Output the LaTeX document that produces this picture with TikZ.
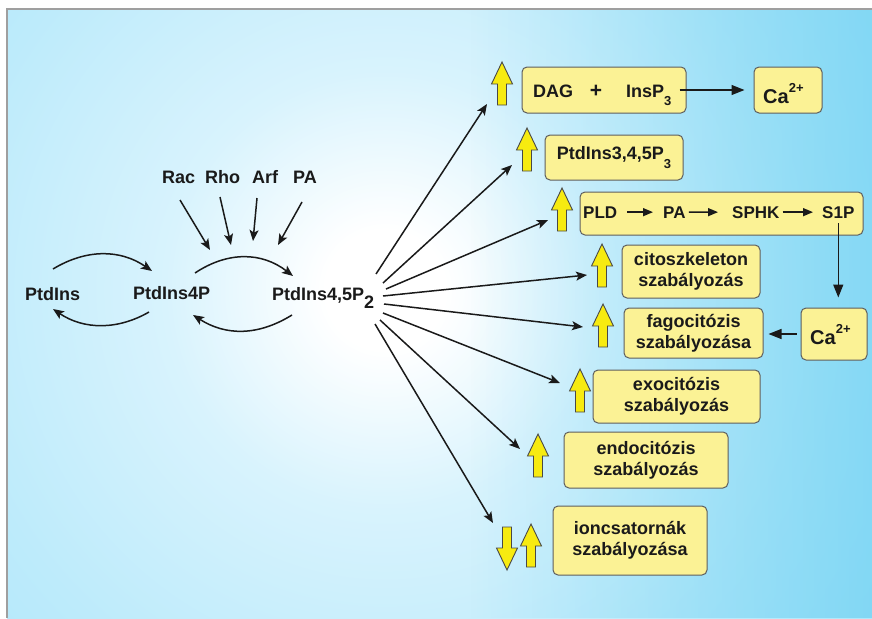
\documentclass[tikz,border=0pt]{standalone}
\usepackage{fontspec}
\setmainfont{Liberation Sans}
\usetikzlibrary{arrows.meta,fadings}
\definecolor{boxfill}{HTML}{FBF295}
\definecolor{boxdraw}{HTML}{5E5E5E}
\definecolor{yarr}{HTML}{F7EB10}
\definecolor{ink}{HTML}{1A1A1A}
\definecolor{bgA}{HTML}{D8F3FD}
\definecolor{bgB}{HTML}{BDEBFB}
\definecolor{bgC}{HTML}{A9E5FA}
\definecolor{bgD}{HTML}{93DDF8}
\definecolor{bgE}{HTML}{86D9F7}
\definecolor{bgF}{HTML}{5CCBF0}
\pgfdeclareradialshading{bgshade}{\pgfpoint{0bp}{0bp}}{color(0bp)=(white); color(1.5bp)=(white); color(5.5bp)=(bgA); color(11bp)=(bgB); color(16.5bp)=(bgC); color(23bp)=(bgD); color(30bp)=(bgE); color(50bp)=(bgE)}
\tikzfading[name=faderight, left color=transparent!100, right color=transparent!0]
\newcommand{\fA}{\fontsize{18}{21}\selectfont\bfseries}
\newcommand{\fB}{\fontsize{17}{20}\selectfont\bfseries}
\newcommand{\lowsub}[2]{\raisebox{-#1}{\fontsize{13}{13}\selectfont #2}}
\newcommand{\caion}{{\fontsize{20}{20}\selectfont Ca}\raisebox{11pt}{\fontsize{13}{13}\selectfont 2+}}
\tikzset{
  lbl/.style={font=\fA, inner sep=0pt, text=ink},
  lblB/.style={font=\fB, inner sep=0pt, text=ink},
  ybox/.style={draw=boxdraw, fill=boxfill, line width=1pt, rounded corners=5pt, inner sep=0pt, align=center, font=\fA, text=ink},
  conn/.style={draw=ink, line width=1.5pt, -{Stealth[length=11pt,width=9pt,inset=2.5pt]}},
  tconn/.style={draw=ink, line width=1.3pt, -{Triangle[length=13pt,width=10pt]}},
  sconn/.style={draw=ink, line width=1.4pt, -{Triangle[length=10pt,width=8pt]}},
  yarrow/.style={fill=yarr, draw=ink!80, line width=0.9pt, line join=miter},
  uparr/.pic={\path[yarrow] (-4.5,0) -- (-4.5,-21) -- (-10.5,-21) -- (0,-43) -- (10.5,-21) -- (4.5,-21) -- (4.5,0) -- cycle;},
  downarr/.pic={\path[yarrow] (-4.5,0) -- (-4.5,21) -- (-10.5,21) -- (0,43) -- (10.5,21) -- (4.5,21) -- (4.5,0) -- cycle;},
}
\begin{document}
\begin{tikzpicture}[x=1pt,y=-1pt]
\useasboundingbox (0,0) rectangle (872,618);
% background panel
\begin{scope}
  \clip (7,9) rectangle (872,618);
  \shade[shading=bgshade] (385,290) circle (1000);
  \fill[bgF, path fading=faderight, fill opacity=0.55] (470,9) rectangle (872,618);
\end{scope}
\draw[gray!75, line width=1.3pt] (7,618) -- (7,9) -- (872,9);

% left chain
\node[lbl, anchor=base west] (pi) at (25,300) {PtdIns};
\node[lbl, anchor=base west] (pi4p) at (133,299) {PtdIns4P};
\node[lbl, anchor=base west] (pip2) at (272,300) {PtdIns4,5P\raisebox{-8pt}{2}};
\node[lbl, anchor=base west] (rac) at (162,183) {Rac};
\node[lbl, anchor=base west] (rho) at (205,183) {Rho};
\node[lbl, anchor=base west] (arf) at (252,183) {Arf};
\node[lbl, anchor=base west] (pa0) at (293,183) {PA};

\coordinate (a1s) at (53,269);  \coordinate (a1e) at (152,271);
\coordinate (a2s) at (149,312); \coordinate (a2e) at (53,309);
\coordinate (a3s) at (195,273); \coordinate (a3e) at (293,276);
\coordinate (a4s) at (292,315); \coordinate (a4e) at (193,315);
\draw[conn] (a1s) .. controls (86,249) and (120,249) .. (a1e);
\draw[conn] (a2s) .. controls (118,330) and (84,330) .. (a2e);
\draw[conn] (a3s) .. controls (228,251) and (262,252) .. (a3e);
\draw[conn] (a4s) .. controls (258,336) and (226,336) .. (a4e);

\coordinate (r1) at (180,200); \coordinate (r1e) at (210,250);
\coordinate (r2) at (220,197); \coordinate (r2e) at (231,245);
\coordinate (r3) at (257,198); \coordinate (r3e) at (253,241);
\coordinate (r4) at (302,202); \coordinate (r4e) at (278,245);
\draw[conn] (r1) -- (r1e);
\draw[conn] (r2) -- (r2e);
\draw[conn] (r3) -- (r3e);
\draw[conn] (r4) -- (r4e);

% fan
\coordinate (s1) at (376,274); \coordinate (t1) at (487,104);
\coordinate (s2) at (383,283); \coordinate (t2) at (512,165);
\coordinate (s3) at (386,289); \coordinate (t3) at (548,220);
\coordinate (s4) at (383,296); \coordinate (t4) at (587,275);
\coordinate (s5) at (384,304); \coordinate (t5) at (583,327);
\coordinate (s6) at (383,313); \coordinate (t6) at (560,383);
\coordinate (s7) at (380,320); \coordinate (t7) at (520,449);
\coordinate (s8) at (375,324); \coordinate (t8) at (493,523);
\foreach \i in {1,...,8} {\draw[conn] (s\i) -- (t\i);}

% boxes
\node[ybox, minimum width=164pt, minimum height=46pt] (dagbox) at (604,90) {};
\node[lbl, anchor=base west] (dag) at (533,97) {DAG};
\node[lbl, anchor=base] (plus) at (596,97) {\fontsize{21}{21}\selectfont +};
\node[lbl, anchor=base west] (insp) at (626,97) {InsP\lowsub{8pt}{3}};
\node[ybox, minimum width=68pt, minimum height=46pt] (ca1) at (788,90) {};
\node[lbl, anchor=base west] (ca1t) at (763,103) {\caion};
\draw[tconn, shorten <=8pt, shorten >=9pt] (insp.east |- ca1.west) -- (ca1.west);

\node[ybox, minimum width=138pt, minimum height=45pt] (p3box) at (614,157.5) {PtdIns3,4,5P\lowsub{9pt}{3}};

\node[ybox, minimum width=283pt, minimum height=43pt] (pldbox) at (721.5,213.5) {};
\node[lblB, anchor=base west] (pld) at (583,218) {PLD};
\node[lblB, anchor=base west] (pa) at (663,218) {PA};
\node[lblB, anchor=base west] (sphk) at (732,218) {SPHK};
\node[lblB, anchor=base west] (s1p) at (822,218) {S1P};
\draw[sconn, shorten <=10pt, shorten >=10pt] (pld.east) -- (pa.west);
\draw[sconn, shorten <=3pt, shorten >=14pt] (pa.east) -- (sphk.west);
\draw[sconn, shorten <=3pt, shorten >=9pt] (sphk.east) -- (s1p.west);

\node[ybox, minimum width=138pt, minimum height=53pt] (cito) at (691,271.5) {citoszkeleton\\szabályozás};
\node[ybox, minimum width=139pt, minimum height=50pt] (fago) at (693.5,333) {fagocitózis\\szabályozása};
\node[ybox, minimum width=66pt, minimum height=52pt] (ca2) at (834,334) {};
\node[lbl, anchor=base west] (ca2t) at (810,344) {\caion};
\draw[tconn, shorten <=5pt, shorten >=10pt] (s1p.south) -- (s1p.south |- ca2.north);
\draw[tconn, shorten <=4pt, shorten >=5pt] (ca2.west) -- (ca2.west -| fago.east);

\node[ybox, minimum width=167pt, minimum height=53pt] (exo) at (676.5,396.5) {exocitózis\\szabályozás};
\node[ybox, minimum width=164pt, minimum height=56pt] (endo) at (646,460) {endocitózis\\szabályozás};
\node[ybox, minimum width=154pt, minimum height=69pt] (ion) at (630,540.5) {ioncsatornák\\szabályozása};

% yellow block arrows
\pic at (502,105) {uparr};
\pic at (527,171) {uparr};
\pic at (562,231) {uparr};
\pic at (602,287) {uparr};
\pic at (603,347) {uparr};
\pic at (580,412) {uparr};
\pic at (538,477) {uparr};
\pic at (507,527) {downarr};
\pic at (531,567) {uparr};
\end{tikzpicture}
\end{document}
